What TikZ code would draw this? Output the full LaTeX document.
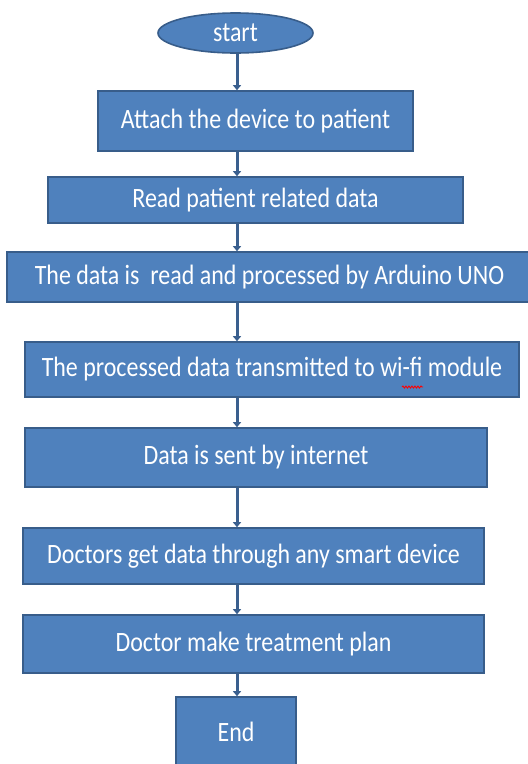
\documentclass[tikz,border=0pt]{standalone}
\usepackage{fontspec}
\setmainfont{Carlito}[FakeStretch=0.855]
\usetikzlibrary{arrows.meta,decorations.pathmorphing,shapes.geometric}
\definecolor{boxfill}{HTML}{4F81BD}
\definecolor{boxline}{HTML}{385D8A}
\definecolor{arrowcol}{HTML}{3A5F8E}
\tikzset{
  flowbox/.style={draw=boxline, line width=1.6pt, fill=boxfill, text=white,
    inner sep=0pt, font=\fontsize{28}{32}\selectfont},
  startshape/.style={ellipse, draw=boxline, line width=1.6pt, fill=boxfill, text=white,
    inner sep=0pt, font=\fontsize{28}{32}\selectfont},
  flowarrow/.style={draw=arrowcol, line width=3pt, -{Triangle[length=5pt,width=8pt]}}
}
\begin{document}
\begin{tikzpicture}[x=1pt,y=-1pt]
\useasboundingbox (0,0) rectangle (528,764);
\fill[white] (0,0) rectangle (528,764);
\node[startshape, minimum width=155pt, minimum height=40pt] (start) at (235.5,33) {start};
\node[flowbox, minimum width=315pt, minimum height=60pt] (b1) at (255.5,121) {Attach the device to patient};
\node[flowbox, minimum width=415pt, minimum height=46pt] (b2) at (255.5,200) {Read patient related data};
\node[flowbox, minimum width=525pt, minimum height=50pt] (b3) at (269.5,277) {The data is\ \ read and processed by Arduino UNO};
\node[flowbox, minimum width=494pt, minimum height=55pt] (b4) at (272,369.5) {The processed data transmitted to wi-fi module};
\node[flowbox, minimum width=462pt, minimum height=59pt] (b5) at (256,457.5) {Data is sent by internet};
\node[flowbox, minimum width=461pt, minimum height=56pt] (b6) at (253.5,556) {Doctors get data through any smart device};
\node[flowbox, minimum width=461pt, minimum height=58pt] (b7) at (253.5,644) {Doctor make treatment plan};
\node[flowbox, minimum width=120pt, minimum height=69pt] (end) at (236,731.5) {End};
\coordinate (ax) at (237,0);
\draw[flowarrow] (start.south -| ax) -- (b1.north -| ax);
\draw[flowarrow] (b1.south -| ax) -- (b2.north -| ax);
\draw[flowarrow] (b2.south -| ax) -- (b3.north -| ax);
\draw[flowarrow] (b3.south -| ax) -- (b4.north -| ax);
\draw[flowarrow] (b4.south -| ax) -- (b5.north -| ax);
\draw[flowarrow] (b5.south -| ax) -- (b6.north -| ax);
\draw[flowarrow] (b6.south -| ax) -- (b7.north -| ax);
\draw[flowarrow] (b7.south -| ax) -- (end.north -| ax);
\draw[red, line width=0.9pt, decorate, decoration={snake, amplitude=1pt, segment length=3pt}] (402,387) -- (423,387);
\end{tikzpicture}
\end{document}
